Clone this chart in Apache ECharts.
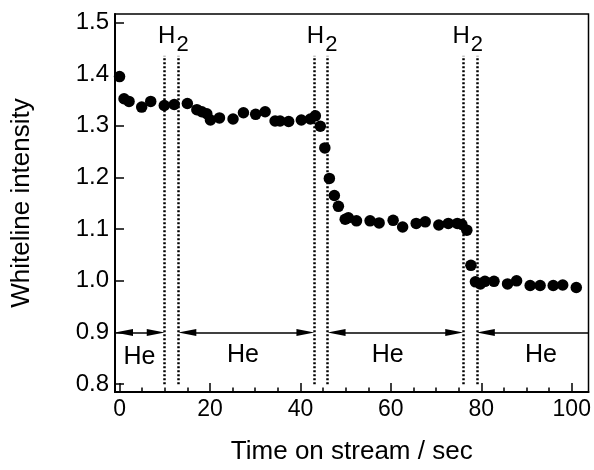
<!DOCTYPE html>
<html>
<head>
<meta charset="utf-8">
<script src="https://cdn.jsdelivr.net/npm/echarts@6/dist/echarts.min.js"></script>
<style>
  html, body { margin: 0; padding: 0; background: #fff; }
  #chart { width: 594px; height: 470px; }
</style>
</head>
<body>
<div id="chart"></div>
<script>
// Time on stream (sec) and measured whiteline intensity
const timeSec = [0, 1.0, 2.1, 4.9, 6.9, 9.9, 12.1, 15.0, 17.1, 18.2, 19.3, 20.1, 22.1, 25.1, 27.4, 30.1, 32.2, 34.4, 35.5, 37.4, 40.2, 42.2, 43.3, 44.4, 45.4, 46.4, 47.5, 48.4, 49.9, 50.6, 52.4, 55.4, 57.4, 60.5, 62.6, 65.6, 67.6, 70.6, 72.7, 74.7, 75.7, 76.8, 77.7, 78.7, 79.8, 80.8, 82.8, 85.8, 87.8, 90.8, 93.0, 95.9, 98.0, 101.0];
const intensity = [1.395, 1.352, 1.347, 1.336, 1.347, 1.339, 1.341, 1.343, 1.331, 1.327, 1.323, 1.311, 1.315, 1.313, 1.325, 1.322, 1.327, 1.309, 1.309, 1.308, 1.311, 1.313, 1.319, 1.299, 1.257, 1.198, 1.165, 1.144, 1.119, 1.122, 1.116, 1.116, 1.112, 1.117, 1.104, 1.111, 1.114, 1.108, 1.111, 1.111, 1.109, 1.098, 1.030, 0.998, 0.994, 0.999, 0.999, 0.994, 1.000, 0.991, 0.991, 0.991, 0.992, 0.987];

// H2 pulse windows (start, end in sec)
const h2Windows = [[10, 13], [43.1, 46], [76, 79]];
const h2LabelX = [11.9, 44.8, 77.0];
const h2LabelY = 1.466;
const h2LineTop = 1.435;

// He flow periods marked by arrows on the 0.9 level
const heLevel = 0.9;
const heSegments = [[-1, 10, true], [13, 43.1, true], [46, 76, true], [79, 103.7, false]];
const heLabels = [[4.4, 0.852], [27.3, 0.857], [59.3, 0.857], [93.2, 0.857]];

// Axis ticks
const xMajorTicks = [0, 20, 40, 60, 80, 100];
const xMinorTicks = [5, 10, 15, 25, 30, 35, 45, 50, 55, 65, 70, 75, 85, 90, 95];
const yTicks = [0.8, 0.9, 1.0, 1.1, 1.2, 1.3, 1.4, 1.5];

const xMin = -1, xMax = 103.7, yMin = 0.785, yMax = 1.516;
const gridBox = { left: 115, top: 14, width: 473.5, height: 384.3 };
const FONT = '"Liberation Sans", Arial, Helvetica, sans-serif';

// half length of an arrow head, converted from px to x units
const arrowLenPx = 18;
const halfArrow = (arrowLenPx / 2) * (xMax - xMin) / gridBox.width;

const h2Lines = h2Windows.flatMap(w => w.map(x => [
  { coord: [x, yTicks[0]] },
  { coord: [x, h2LineTop] }
]));

const heArrowLines = heSegments.map(([a, b, rightArrow]) => [
  { coord: [a + halfArrow, heLevel], symbol: 'triangle' },
  rightArrow ? { coord: [b - halfArrow, heLevel], symbol: 'triangle' }
             : { coord: [b, heLevel], symbol: 'none' }
]);

const chart = echarts.init(document.getElementById('chart'), null, { renderer: 'canvas' });

chart.setOption({
  animation: false,
  backgroundColor: '#fff',
  textStyle: { fontFamily: FONT },
  grid: Object.assign({ show: true, borderColor: '#000', borderWidth: 1.5, backgroundColor: 'transparent' }, gridBox),
  xAxis: [{
    type: 'value', min: xMin, max: xMax, position: 'bottom',
    name: 'Time on stream / sec', nameLocation: 'middle', nameGap: 47,
    nameTextStyle: { fontSize: 26, color: '#000', fontFamily: FONT },
    axisLine: { show: true, onZero: false, lineStyle: { color: '#000', width: 2 } },
    axisTick: { show: true, inside: true, length: 9, customValues: xMajorTicks, lineStyle: { color: '#000', width: 1.5 } },
    axisLabel: { show: true, customValues: xMajorTicks, fontSize: 23, color: '#000', margin: 6, fontFamily: FONT },
    splitLine: { show: false }
  }, {
    type: 'value', min: xMin, max: xMax, position: 'bottom',
    axisLine: { show: false },
    axisTick: { show: true, inside: true, length: 4.5, customValues: xMinorTicks, lineStyle: { color: '#000', width: 1.5 } },
    axisLabel: { show: false },
    splitLine: { show: false }
  }],
  yAxis: {
    type: 'value', min: yMin, max: yMax,
    name: 'Whiteline intensity', nameLocation: 'middle', nameGap: 80, nameRotate: 90,
    nameTextStyle: { fontSize: 26, color: '#000', fontFamily: FONT },
    axisLine: { show: true, onZero: false, lineStyle: { color: '#000', width: 2 } },
    axisTick: { show: true, inside: true, length: 9, customValues: yTicks, lineStyle: { color: '#000', width: 1.5 } },
    axisLabel: { show: true, customValues: yTicks, fontSize: 24, color: '#000', margin: 6, fontFamily: FONT,
                 formatter: v => v.toFixed(1) },
    splitLine: { show: false }
  },
  series: [{
    name: 'Whiteline intensity',
    type: 'scatter',
    data: timeSec.map((t, i) => [t, intensity[i]]),
    symbol: 'circle',
    symbolSize: 11.5,
    itemStyle: { color: '#000', opacity: 1 },
    z: 5
  }, {
    name: 'H2 windows',
    type: 'scatter',
    data: [],
    markLine: {
      silent: true,
      symbol: 'none',
      label: { show: false },
      lineStyle: { color: '#000', width: 2.5, type: [2, 2], opacity: 1 },
      emphasis: { disabled: true },
      data: h2Lines
    }
  }, {
    name: 'He periods',
    type: 'scatter',
    data: [],
    markLine: {
      silent: true,
      symbol: 'none',
      symbolSize: [7, arrowLenPx],
      label: { show: false },
      lineStyle: { color: '#000', width: 1.5, type: 'solid', opacity: 1 },
      itemStyle: { color: '#000', opacity: 1 },
      emphasis: { disabled: true },
      data: heArrowLines
    }
  }, {
    name: 'H2 labels',
    type: 'scatter',
    symbolSize: 0,
    data: h2LabelX.map(x => [x, h2LabelY]),
    silent: true,
    itemStyle: { opacity: 1 },
    label: {
      show: true, position: 'inside', color: '#000',
      formatter: () => '{h|H}{s|2}',
      rich: {
        h: { fontSize: 24, fontFamily: FONT, color: '#000', verticalAlign: 'top', lineHeight: 30 },
        s: { fontSize: 22, fontFamily: FONT, color: '#000', verticalAlign: 'top', lineHeight: 30, padding: [9, 0, 0, 1] }
      }
    }
  }, {
    name: 'He labels',
    type: 'scatter',
    symbolSize: 0,
    data: heLabels,
    silent: true,
    itemStyle: { opacity: 1 },
    label: {
      show: true, position: 'inside', color: '#000',
      fontSize: 25, fontFamily: FONT,
      formatter: () => 'He'
    }
  }]
});
</script>
</body>
</html>
